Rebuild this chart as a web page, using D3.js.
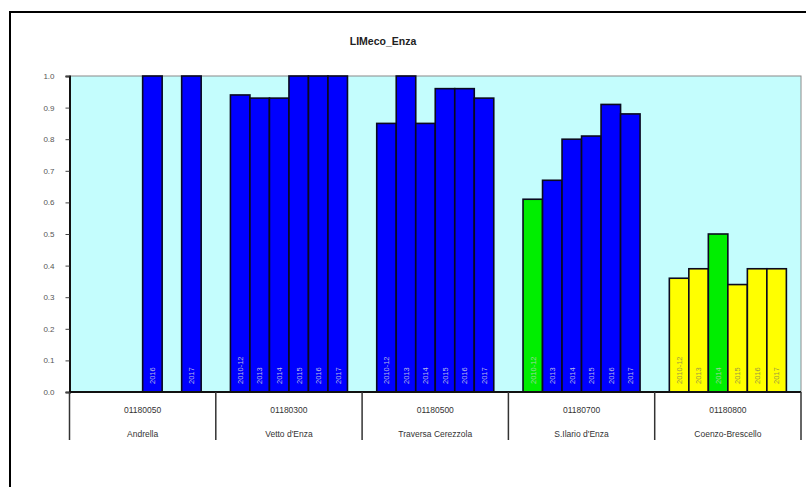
<!DOCTYPE html>
<html>
<head>
<meta charset="utf-8">
<script src="https://cdn.jsdelivr.net/npm/d3@7"></script>
<style>
  body { margin: 0; background: #fff; }
  text { font-family: "Liberation Sans", Arial, sans-serif; }
</style>
</head>
<body>
<script>
const width = 806;
const height = 487;

// station codes and names (two-level category axis)
const codes = ["01180050", "01180300", "01180500", "01180700", "01180800"];
const stations = ["Andrella", "Vetto d'Enza", "Traversa Cerezzola", "S.Ilario d'Enza", "Coenzo-Brescello"];

// bar labels per station (empty = no bar in that slot)
const barLabels = [
  ["", "", "", "2016", "", "2017"],
  ["2010-12", "2013", "2014", "2015", "2016", "2017"],
  ["2010-12", "2013", "2014", "2015", "2016", "2017"],
  ["2010-12", "2013", "2014", "2015", "2016", "2017"],
  ["2010-12", "2013", "2014", "2015", "2016", "2017"]
];

// LIMeco values
const limeco = [
  [null, null, null, 1.0, null, 1.0],
  [0.94, 0.93, 0.93, 1.0, 1.0, 1.0],
  [0.85, 1.0, 0.85, 0.96, 0.96, 0.93],
  [0.61, 0.67, 0.80, 0.81, 0.91, 0.88],
  [0.36, 0.39, 0.50, 0.34, 0.39, 0.39]
];

const yTicks = [0, 0.1, 0.2, 0.3, 0.4, 0.5, 0.6, 0.7, 0.8, 0.9, 1.0];

const svg = d3.select('body').append('svg')
  .attr('width', width)
  .attr('height', height);

// outer chart frame
svg.append('rect')
  .attr('x', 10).attr('y', 12)
  .attr('width', 820).attr('height', 500)
  .attr('fill', '#fff')
  .attr('stroke', '#000')
  .attr('stroke-width', 2);

const plot = { left: 69.5, right: 801, top: 76, bottom: 392 };

const x0 = d3.scaleBand()
  .domain(codes)
  .range([plot.left, plot.right]);

const x1 = d3.scaleBand()
  .domain(d3.range(6))
  .range([x0.bandwidth() * 0.1, x0.bandwidth() * 0.9]);

const y = d3.scaleLinear()
  .domain([0, 1])
  .range([plot.bottom, plot.top]);

// quality class colours
const colour = d3.scaleThreshold()
  .domain([0.33, 0.5, 0.66])
  .range(['#ff9900', '#ffff00', '#00ee00', '#0000ff']);

svg.append('rect')
  .attr('x', plot.left).attr('y', plot.top)
  .attr('width', plot.right - plot.left)
  .attr('height', plot.bottom - plot.top)
  .attr('fill', '#c4fdfd')
  .attr('stroke', '#8a8a8a')
  .attr('stroke-width', 1);

svg.append('text')
  .attr('x', 383).attr('y', 45)
  .attr('text-anchor', 'middle')
  .attr('font-size', 10.5)
  .attr('font-weight', 'bold')
  .attr('fill', '#222')
  .text('LIMeco_Enza');

const bars = [];
limeco.forEach((vals, gi) => {
  vals.forEach((v, i) => {
    if (v !== null) bars.push({ code: codes[gi], slot: i, value: v, label: barLabels[gi][i] });
  });
});

const g = svg.append('g');

g.selectAll('.bar')
  .data(bars)
  .enter()
  .append('rect')
  .attr('class', 'bar')
  .attr('x', d => x0(d.code) + x1(d.slot))
  .attr('y', d => y(d.value))
  .attr('width', x1.bandwidth())
  .attr('height', d => y(0) - y(d.value))
  .attr('fill', d => colour(d.value))
  .attr('stroke', '#0a0a20')
  .attr('stroke-width', 1.6);

g.selectAll('.blabel')
  .data(bars)
  .enter()
  .append('text')
  .attr('class', 'blabel')
  .attr('transform', d => `translate(${x0(d.code) + x1(d.slot) + x1.bandwidth() / 2 + 2.8},${plot.bottom - 8}) rotate(-90)`)
  .attr('font-size', 7.5)
  .attr('fill', d => d.value >= 0.66 ? '#b8b8e8' : d.value >= 0.5 ? '#a0d8a0' : '#9a9a40')
  .text(d => d.label);

// y axis
const yAxis = svg.append('g')
  .attr('transform', `translate(${plot.left},0)`)
  .call(d3.axisLeft(y).tickValues(yTicks).tickFormat(d3.format('.1f')).tickSize(4).tickPadding(11));
yAxis.select('.domain').attr('stroke', '#111').attr('stroke-width', 2);
yAxis.selectAll('.tick line').attr('stroke', '#444');
yAxis.selectAll('.tick text')
  .attr('font-size', 8)
  .attr('fill', '#555')
  .attr('font-family', '"Liberation Sans", Arial, sans-serif');

// category axis
svg.append('line')
  .attr('x1', plot.left).attr('x2', plot.right)
  .attr('y1', plot.bottom).attr('y2', plot.bottom)
  .attr('stroke', '#111').attr('stroke-width', 2);

const bounds = codes.map(c => x0(c)).concat([x0(codes[codes.length - 1]) + x0.bandwidth()]);
svg.selectAll('.sep')
  .data(bounds)
  .enter()
  .append('line')
  .attr('x1', d => d).attr('x2', d => d)
  .attr('y1', plot.bottom).attr('y2', 440)
  .attr('stroke', '#333')
  .attr('stroke-width', 1.5);

svg.selectAll('.code')
  .data(codes)
  .enter()
  .append('text')
  .attr('x', d => x0(d) + x0.bandwidth() / 2)
  .attr('y', 413)
  .attr('text-anchor', 'middle')
  .attr('font-size', 8.5)
  .attr('fill', '#333')
  .text(d => d);

svg.selectAll('.station')
  .data(stations)
  .enter()
  .append('text')
  .attr('x', (d, i) => x0(codes[i]) + x0.bandwidth() / 2)
  .attr('y', 437)
  .attr('text-anchor', 'middle')
  .attr('font-size', 8.5)
  .attr('fill', '#333')
  .text(d => d);
</script>
</body>
</html>
